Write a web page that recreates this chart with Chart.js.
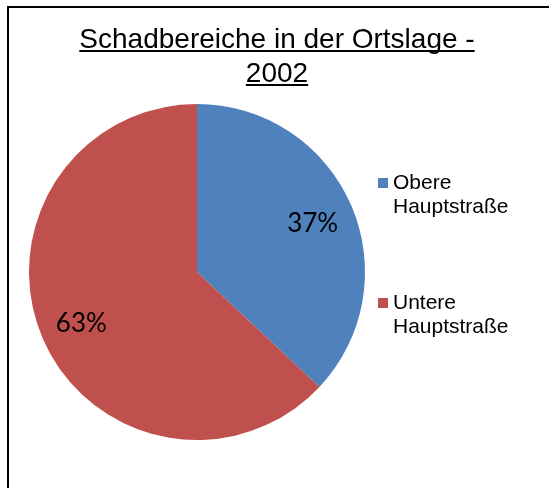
<!DOCTYPE html>
<html>
<head>
<meta charset="utf-8">
<script src="https://cdn.jsdelivr.net/npm/chart.js@4/dist/chart.umd.min.js"></script>
<style>
  html, body { margin: 0; padding: 0; background: #fff; }
  #wrap { width: 549px; height: 488px; position: relative; }
</style>
</head>
<body>
<div id="wrap"><canvas id="myChart"></canvas></div>
<script>
// data
const categories = ['Obere Hauptstraße', 'Untere Hauptstraße'];
const shares = [37, 63];
const colors = ['#4F81BD', '#C0504D'];
const titleLines = ['Schadbereiche in der Ortslage -', '2002'];

// title, legend, border and slice labels drawn on top of the pie
const decorations = {
    id: 'decorations',
    afterDraw(chart) {
        const ctx = chart.ctx;
        ctx.save();

        // outer frame (right and bottom edge lie outside the picture)
        ctx.strokeStyle = '#000';
        ctx.lineWidth = 2;
        ctx.strokeRect(8, 7, 700, 700);

        // underlined title
        ctx.fillStyle = '#000';
        ctx.font = '28px "Liberation Sans", Arial, sans-serif';
        ctx.textAlign = 'center';
        ctx.textBaseline = 'alphabetic';
        const cx = 277;
        titleLines.forEach((t, i) => {
            const y = 48 + i * 34;
            ctx.fillText(t, cx, y);
            const w = ctx.measureText(t).width;
            ctx.fillRect(cx - w / 2, y + 2, w, 2);
        });

        // percent labels inside the slices
        const meta = chart.getDatasetMeta(0);
        const total = shares.reduce((a, b) => a + b, 0);
        ctx.font = '26px Lato, "Open Sans", sans-serif';
        ctx.textBaseline = 'middle';
        meta.data.forEach((arc, i) => {
            const mid = (arc.startAngle + arc.endAngle) / 2;
            const r = arc.outerRadius * 0.75;
            const x = arc.x + Math.cos(mid) * r;
            const y = arc.y + Math.sin(mid) * r;
            ctx.fillText(Math.round(shares[i] / total * 100) + '%', x, y + 2);
        });

        // legend on the right
        ctx.font = '21px "Liberation Sans", Arial, sans-serif';
        ctx.textAlign = 'left';
        ctx.textBaseline = 'alphabetic';
        categories.forEach((label, i) => {
            const top = 178 + i * 120;
            ctx.fillStyle = colors[i];
            ctx.fillRect(378, top, 10, 10);
            ctx.fillStyle = '#000';
            label.split(' ').forEach((line, j) => {
                ctx.fillText(line, 393, top + 11 + j * 24);
            });
        });

        ctx.restore();
    }
};

const config = {
    type: 'pie',
    data: {
        labels: categories,
        datasets: [{
            data: shares,
            backgroundColor: colors,
            borderWidth: 0
        }]
    },
    options: {
        responsive: true,
        maintainAspectRatio: false,
        animation: false,
        layout: {
            padding: { left: 29, right: 184, top: 104, bottom: 48 }
        },
        plugins: {
            legend: { display: false },
            title: { display: false },
            tooltip: { enabled: false }
        }
    },
    plugins: [decorations]
};

// make sure the label font is loaded before the canvas is painted
Promise.all([
    document.fonts.load('26px Lato'),
    document.fonts.load('21px "Liberation Sans"')
]).catch(() => {}).then(() => {
    new Chart(document.getElementById('myChart'), config);
});
</script>
</body>
</html>
